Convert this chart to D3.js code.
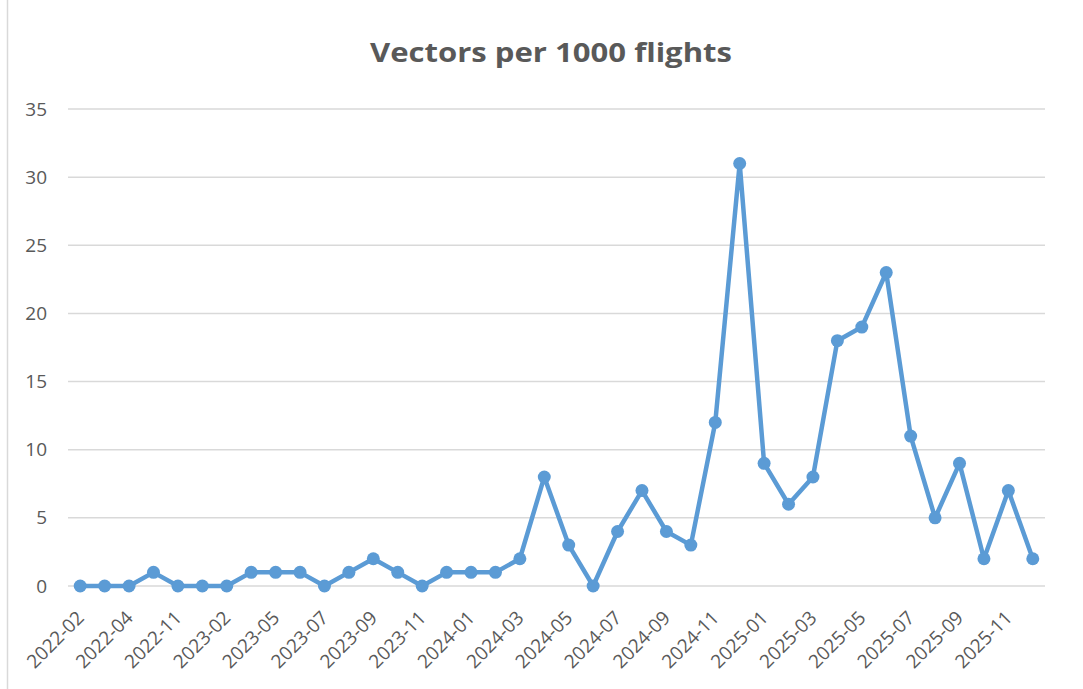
<!DOCTYPE html>
<html>
<head>
<meta charset="utf-8">
<script src="https://cdn.jsdelivr.net/npm/d3@7/dist/d3.min.js"></script>
<style>
  html, body { margin: 0; padding: 0; background: #fff; }
  svg { display: block; }
</style>
</head>
<body>
<svg id="chart" width="1083" height="689"></svg>
<script>
// Monthly categories (only every other one is labelled on the axis)
const months = [
  "2022-02", "2022-03", "2022-04", "2022-05", "2022-11", "2022-12", "2023-02", "2023-03",
  "2023-05", "2023-06", "2023-07", "2023-08", "2023-09", "2023-10", "2023-11", "2023-12",
  "2024-01", "2024-02", "2024-03", "2024-04", "2024-05", "2024-06", "2024-07", "2024-08",
  "2024-09", "2024-10", "2024-11", "2024-12", "2025-01", "2025-02", "2025-03", "2025-04",
  "2025-05", "2025-06", "2025-07", "2025-08", "2025-09", "2025-10", "2025-11", "2025-12"
];
// Vectors per 1000 flights
const vectors = [
  0, 0, 0, 1, 0, 0, 0, 1,
  1, 1, 0, 1, 2, 1, 0, 1,
  1, 1, 2, 8, 3, 0, 4, 7,
  4, 3, 12, 31, 9, 6, 8, 18,
  19, 23, 11, 5, 9, 2, 7, 2
];
const yTicks = [0, 5, 10, 15, 20, 25, 30, 35];
const chartTitle = "Vectors per 1000 flights";

const svg = d3.select("#chart");
const W = 1083, H = 689;
const plot = { left: 68, right: 1045, top: 109, bottom: 586 };
const textColor = "#595959";
const fontFamily = "'Open Sans', 'Liberation Sans', sans-serif";

// chart frame
svg.append("rect")
  .attr("x", 7.5).attr("y", -10)
  .attr("width", W + 20).attr("height", H + 20)
  .attr("fill", "none").attr("stroke", "#d9d9d9").attr("stroke-width", 1.5);

const x = d3.scaleBand().domain(months).range([plot.left, plot.right]);
const y = d3.scaleLinear().domain([0, 35]).range([plot.bottom, plot.top]);

// horizontal gridlines
svg.append("g").selectAll("line").data(yTicks).join("line")
  .attr("x1", plot.left).attr("x2", plot.right)
  .attr("y1", d => y(d)).attr("y2", d => y(d))
  .attr("stroke", "#d9d9d9").attr("stroke-width", 1.5);

// y axis labels
const yAxis = svg.append("g")
  .attr("transform", `translate(${plot.left},0)`)
  .call(d3.axisLeft(y).tickValues(yTicks).tickSize(0).tickPadding(21));
yAxis.select(".domain").remove();
yAxis.selectAll("text")
  .attr("fill", textColor)
  .style("font-family", fontFamily)
  .style("font-size", "19px");

// x axis labels, every other category, rotated
const xAxis = svg.append("g")
  .attr("transform", `translate(0,${plot.bottom})`)
  .call(d3.axisBottom(x)
    .tickValues(months.filter((d, i) => i % 2 === 0))
    .tickSize(0));
xAxis.select(".domain").remove();
xAxis.selectAll("text")
  .attr("fill", textColor)
  .style("font-family", fontFamily)
  .style("font-size", "19px")
  .attr("text-anchor", "end")
  .attr("dy", null)
  .attr("y", 0)
  .attr("transform", "translate(5,33) rotate(-45)");

const cx = d => x(d) + x.bandwidth() / 2;
const pts = months.map((m, i) => [cx(m), y(vectors[i])]);

// series line
svg.append("path")
  .attr("d", d3.line()(pts))
  .attr("fill", "none")
  .attr("stroke", "#5b9bd5")
  .attr("stroke-width", 4.5)
  .attr("stroke-linejoin", "round")
  .attr("stroke-linecap", "round");

// markers
svg.append("g").selectAll("circle").data(pts).join("circle")
  .attr("cx", d => d[0]).attr("cy", d => d[1])
  .attr("r", 6.5)
  .attr("fill", "#5b9bd5");

// title
svg.append("text")
  .attr("x", 551).attr("y", 62)
  .attr("text-anchor", "middle")
  .attr("fill", textColor)
  .style("font-family", fontFamily)
  .style("font-weight", "bold")
  .style("font-size", "27px")
  .attr("textLength", 362)
  .attr("lengthAdjust", "spacingAndGlyphs")
  .text(chartTitle);
</script>
</body>
</html>
